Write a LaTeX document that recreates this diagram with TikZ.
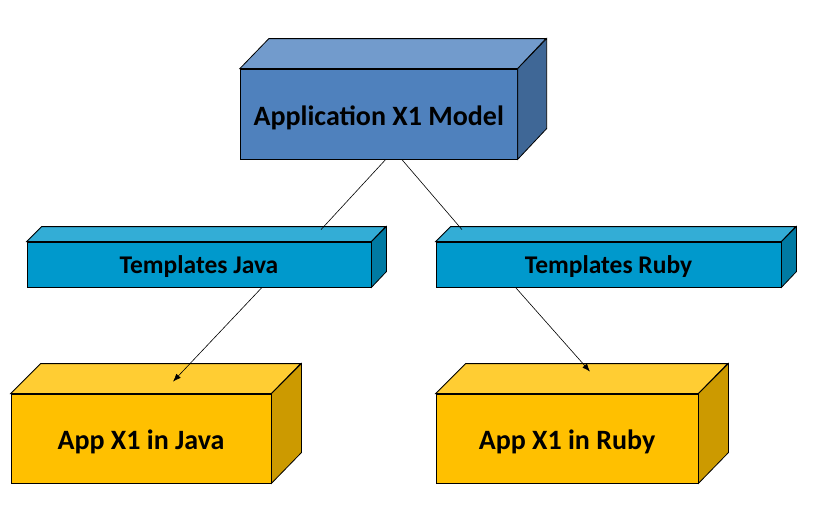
\documentclass[tikz,border=0pt]{standalone}
\usepackage{fontspec}
\setmainfont{Carlito}
\usetikzlibrary{arrows.meta}
\usetikzlibrary{positioning}

\definecolor{bleuface}{HTML}{4F81BD}
\definecolor{bleuhaut}{HTML}{729BCC}
\definecolor{bleucote}{HTML}{3F6796}
\definecolor{cyanface}{HTML}{0099CC}
\definecolor{cyanhaut}{HTML}{33ADD6}
\definecolor{cyancote}{HTML}{007AA3}
\definecolor{orface}{HTML}{FFC000}
\definecolor{orhaut}{HTML}{FFCD33}
\definecolor{orcote}{HTML}{CC9A00}

\tikzset{
	boite/.style={rectangle,draw,line width=0.8pt,inner sep=0pt,text depth=0pt},
	face/.style={draw,line width=0.8pt,line join=miter},
	lien/.style={line width=0.6pt},
	fleche/.style={line width=0.6pt,-{Latex[length=8pt,width=6pt]}}
}

\begin{document}
\begin{tikzpicture}[x=1pt,y=-1pt]
			\useasboundingbox (0,0) rectangle (818,506);
			% description et nommage des noeuds (face avant des boites)
			\node (MODELE) at (378.75,114) [boite,fill=bleuface,minimum width=277pt,minimum height=90pt,text height=22pt,font=\bfseries\fontsize{28}{30}\selectfont] {Application X1 Model};
			\node (TJAVA) at (199,264.5) [boite,fill=cyanface,minimum width=344pt,minimum height=45pt,text height=17pt,font=\bfseries\fontsize{25.5}{27}\selectfont] {Templates Java};
			\node (TRUBY) at (608.5,264.5) [boite,fill=cyanface,minimum width=345pt,minimum height=45pt,text height=17pt,font=\bfseries\fontsize{25.5}{27}\selectfont] {Templates Ruby};
			\node (AJAVA) at (141,438.5) [boite,fill=orface,minimum width=260pt,minimum height=89pt,text height=21.5pt,font=\bfseries\fontsize{28}{30}\selectfont] {App X1 in Java};
			\node (ARUBY) at (567,438.5) [boite,fill=orface,minimum width=262pt,minimum height=89pt,text height=21.5pt,font=\bfseries\fontsize{28}{30}\selectfont] {App X1 in Ruby};
			% faces du dessus et de cote
			\draw[face,fill=bleuhaut] (MODELE.north west) -- ++(29,-30) -- ++(277,0) -- (MODELE.north east) -- cycle;
			\draw[face,fill=bleucote] (MODELE.north east) -- ++(29,-30) -- ++(0,90) -- (MODELE.south east) -- cycle;
			\draw[face,fill=cyanhaut] (TJAVA.north west) -- ++(15,-15) -- ++(344,0) -- (TJAVA.north east) -- cycle;
			\draw[face,fill=cyancote] (TJAVA.north east) -- ++(15,-15) -- ++(0,45) -- (TJAVA.south east) -- cycle;
			\draw[face,fill=cyanhaut] (TRUBY.north west) -- ++(15,-15) -- ++(345,0) -- (TRUBY.north east) -- cycle;
			\draw[face,fill=cyancote] (TRUBY.north east) -- ++(15,-15) -- ++(0,45) -- (TRUBY.south east) -- cycle;
			\draw[face,fill=orhaut] (AJAVA.north west) -- ++(30,-30) -- ++(260,0) -- (AJAVA.north east) -- cycle;
			\draw[face,fill=orcote] (AJAVA.north east) -- ++(30,-30) -- ++(0,89) -- (AJAVA.south east) -- cycle;
			\draw[face,fill=orhaut] (ARUBY.north west) -- ++(30,-30) -- ++(262,0) -- (ARUBY.north east) -- cycle;
			\draw[face,fill=orcote] (ARUBY.north east) -- ++(30,-30) -- ++(0,89) -- (ARUBY.south east) -- cycle;
			% description des aretes
			\draw[lien] ([xshift=7pt]MODELE.south) -- ([xshift=122pt,yshift=12pt]TJAVA.north);
			\draw[lien] ([xshift=23pt]MODELE.south) -- ([xshift=-146.5pt,yshift=12pt]TRUBY.north);
			\draw[fleche] ([xshift=63pt]TJAVA.south) -- ([xshift=32pt,yshift=12pt]AJAVA.north);
			\draw[fleche] ([xshift=-93pt]TRUBY.south) -- ([xshift=23pt,yshift=22pt]ARUBY.north);
\end{tikzpicture}
\end{document}
